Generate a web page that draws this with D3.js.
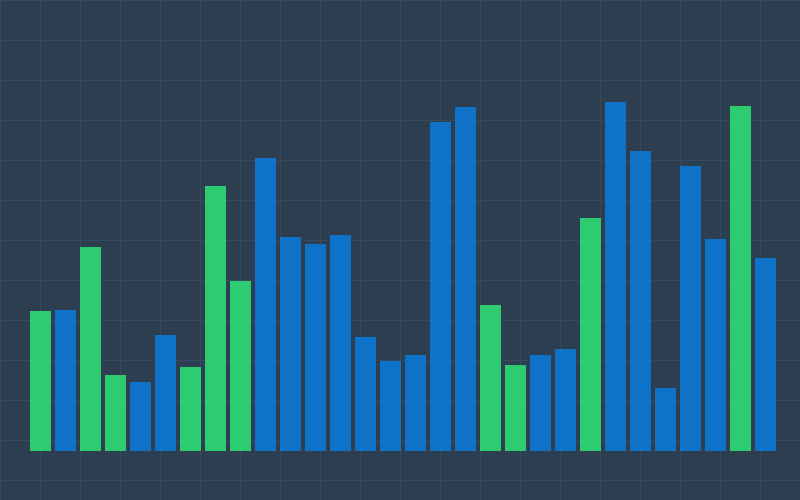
<!DOCTYPE html>
<html><head><meta charset="utf-8">
<script src="https://cdn.jsdelivr.net/npm/d3@7"></script>
<style>html,body{margin:0;padding:0;background:#2c3e50;}svg{display:block;}</style>
</head><body>
<script>
const categories = d3.range(1, 31).map(i => "B" + i);
const values = [35, 35.25, 51, 19, 17.25, 29, 21, 66.25, 42.5, 73.25, 53.5, 51.75, 54, 28.5, 22.5, 24, 82.25, 86, 36.5, 21.5, 24, 25.5, 58.25, 87.25, 75, 15.75, 71.25, 53, 86.25, 48.25];
const groups = ["g","b","g","g","b","b","g","g","g","b","b","b","b","b","b","b","b","b","g","g","b","b","g","b","b","b","b","b","g","b"];
const colors = {g: "#2ecc71", b: "#0e72c9"};

const W = 800, H = 500;
const svg = d3.select("body").append("svg").attr("width", W).attr("height", H);
svg.append("rect").attr("width", W).attr("height", H).attr("fill", "#2c3e50");

const g = svg.append("g");
// grid
const gx = d3.range(0, W + 1, 40), gy = d3.range(0, H + 1, 40);
g.selectAll("line.vx").data(gx).join("line")
  .attr("x1", d => d + 0.5).attr("x2", d => d + 0.5).attr("y1", 0).attr("y2", H)
  .attr("stroke", "#36495d").attr("stroke-width", 1);
g.selectAll("line.hy").data(gy).join("line")
  .attr("y1", d => d + 0.5).attr("y2", d => d + 0.5).attr("x1", 0).attr("x2", W)
  .attr("stroke", "#36495d").attr("stroke-width", 1);

const x = d3.scaleBand().domain(categories).range([28, 778]).paddingInner(0.16).paddingOuter(0.08);
const y = d3.scaleLinear().domain([0, 100]).range([451, 51]);

svg.selectAll("rect.bar").data(values).join("rect")
  .attr("class", "bar")
  .attr("x", (d, i) => x(categories[i]))
  .attr("width", x.bandwidth())
  .attr("y", d => y(d))
  .attr("height", d => y(0) - y(d))
  .attr("fill", (d, i) => colors[groups[i]]);
</script>
</body></html>
